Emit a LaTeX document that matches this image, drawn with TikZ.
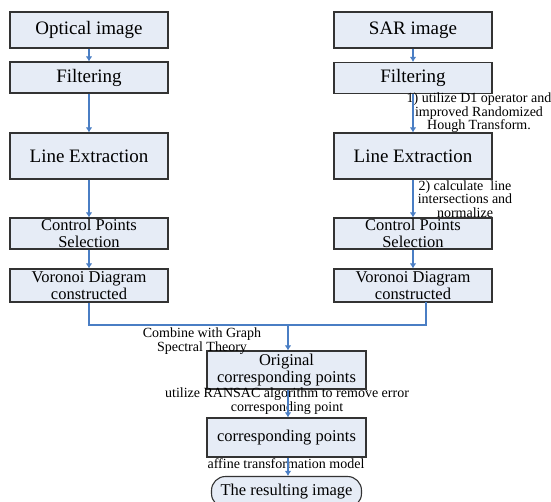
\documentclass[tikz,border=0pt]{standalone}
\usepackage{fontspec}
\setmainfont{Liberation Serif}
\usetikzlibrary{arrows.meta}
\definecolor{boxfill}{HTML}{E6ECF6}
\definecolor{boxline}{HTML}{333333}
\definecolor{arrblue}{HTML}{4A7EC4}
\tikzset{
  box/.style={draw=boxline, fill=boxfill, line width=1.1pt, inner sep=1pt, align=center},
  bigbox/.style={box, font=\fontsize{19}{20}\selectfont, minimum width=158pt},
  midbox/.style={box, font=\fontsize{16.5}{16.5}\selectfont},
  note/.style={align=center, inner sep=0pt, font=\fontsize{14}{13.5}\selectfont},
  conn/.style={draw=arrblue, line width=1.1pt},
  arr/.style={conn, -{Latex[length=5pt,width=6.5pt]}}
}
\begin{document}
\begin{tikzpicture}[x=1pt,y=-1pt]
\useasboundingbox (0,0) rectangle (551,502);
% left column
\node[bigbox, minimum height=36pt] (optL) at (89,30) {Optical image};
\node[bigbox, minimum height=31pt] (filL) at (89,77.5) {Filtering};
\node[bigbox, minimum height=46pt] (linL) at (89,156) {Line Extraction};
\node[midbox, minimum width=158pt, minimum height=31pt] (cpL) at (89,233.5) {Control Points\\Selection};
\node[midbox, minimum width=158pt, minimum height=33pt] (vorL) at (89,285.5) {Voronoi Diagram\\constructed};
% right column
\node[bigbox, minimum height=36pt] (optR) at (413,30) {SAR image};
\node[bigbox, minimum height=31pt] (filR) at (413,78) {Filtering};
\node[bigbox, minimum height=46pt] (linR) at (413,156) {Line Extraction};
\node[midbox, minimum width=158pt, minimum height=31pt] (cpR) at (413,233.5) {Control Points\\Selection};
\node[midbox, minimum width=158pt, minimum height=33pt] (vorR) at (413,285.5) {Voronoi Diagram\\constructed};
% bottom
\node[midbox, minimum width=159pt, minimum height=38pt] (orig) at (286.5,370) {Original\\corresponding points};
\node[midbox, minimum width=159pt, minimum height=39pt] (corr) at (286.5,437.5) {corresponding points};
\node[midbox, minimum width=150pt, minimum height=31pt, rounded corners=14pt] (res) at (286.5,492) {The resulting image};
% notes
\node[note] (n1) at (479,113) {1) utilize D1 operator and\\improved Randomized\\Hough Transform.};
\node[note] (n2) at (465,199) {2) calculate\ \ line\\intersections and\\normalize};
\node[note] (n3) at (202,341) {Combine with Graph\\Spectral Theory};
\node[note] (n4) at (287,401) {utilize RANSAC algorithm to remove error\\corresponding point};
\node[note] (n5) at (286,464) {affine transformation model};
% connectors
\draw[arr] (optL) -- (filL);
\draw[arr] (filL) -- (linL);
\draw[arr] (linL) -- (cpL);
\draw[arr] (cpL) -- (vorL);
\draw[arr] (optR) -- (filR);
\draw[arr] (filR) -- (linR);
\draw[arr] (linR) -- (cpR);
\draw[arr] (cpR) -- (vorR);
\coordinate (j) at (288,325);
\coordinate (rv) at (426,302);
\draw[conn] (vorL.south) |- (j);
\draw[conn] (rv) |- (j);
\draw[arr] (j) -- (orig.north -| j);
\draw[arr] (orig.south -| j) -- (corr.north -| j);
\draw[arr] (corr.south -| j) -- (res.north -| j);
\end{tikzpicture}
\end{document}
